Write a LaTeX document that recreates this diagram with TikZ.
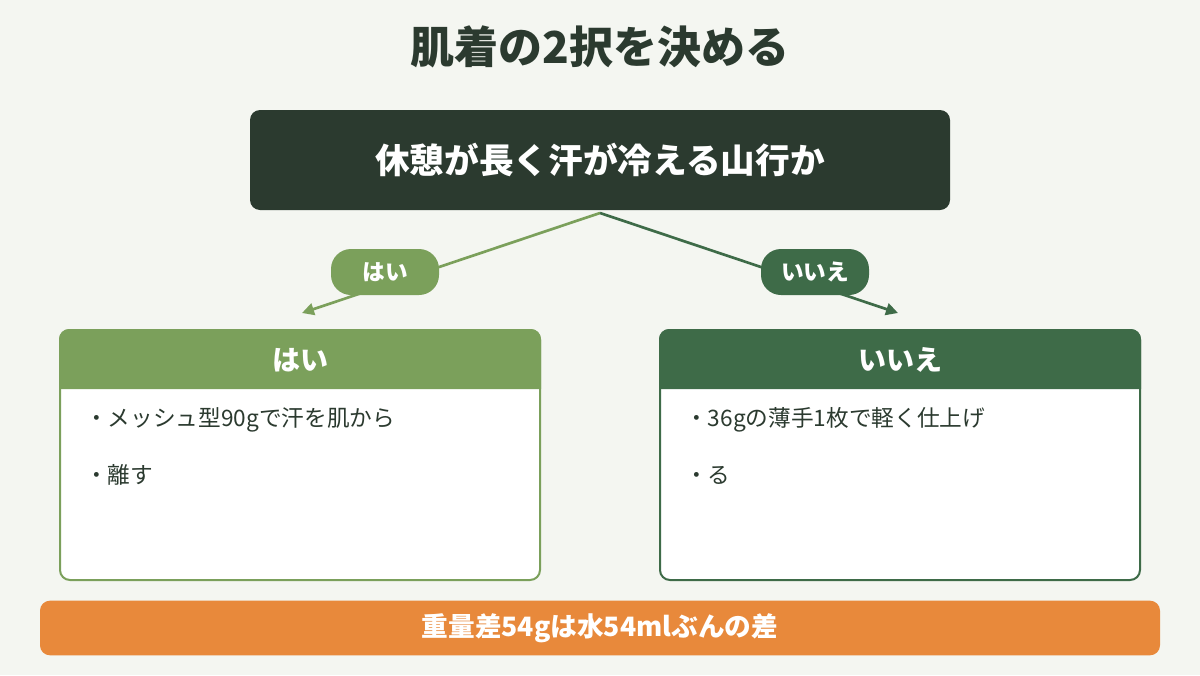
\documentclass[tikz,border=0pt]{standalone}
\usepackage{fontspec}
\setmainfont{Noto Sans CJK JP}
\usepackage{xcolor}
\definecolor{PageBg}{HTML}{F4F6F1}
\definecolor{DeepPine}{HTML}{2B3A2F}
\definecolor{HaiGreen}{HTML}{7BA05B}
\definecolor{IieGreen}{HTML}{3E6B48}
\definecolor{NoteOrange}{HTML}{E8893B}
\usetikzlibrary{arrows.meta,positioning,calc}
\tikzset{
  qbox/.style={fill=DeepPine, rounded corners=7.5pt, minimum width=525pt, minimum height=75pt,
               text=white, font=\fontsize{26}{30}\selectfont\bfseries, inner sep=0pt},
  pill/.style={rounded corners=15pt, minimum width=81pt, minimum height=34.5pt, inner sep=0pt,
               text=white, font=\fontsize{17}{20}\selectfont\bfseries},
  card/.style={draw=#1, fill=white, line width=1.5pt, rounded corners=7.5pt,
               minimum width=360pt, minimum height=187.5pt, inner sep=0pt},
  cardhead/.style={text=white, font=\fontsize{21}{24}\selectfont\bfseries},
  item/.style={anchor=west, text=DeepPine, font=\fontsize{17}{20}\selectfont, inner sep=0pt},
  branch/.style={-{Triangle[length=9pt,width=9pt]}, line width=2pt, #1}
}

\begin{document}
\begin{tikzpicture}[x=0.75pt, y=-0.75pt]
\fill[PageBg] (0,0) rectangle (1200,675);
\useasboundingbox (0,0) rectangle (1200,675);

% title
\node[text=DeepPine, font=\fontsize{33}{38}\selectfont\bfseries] (title) at (600,47) {肌着の2択を決める};

% question
\node[qbox] (q) at (600,160) {休憩が長く汗が冷える山行か};
\coordinate (qfoot) at (600,213);

% branches
\coordinate (haiend) at (302,313);
\coordinate (iieend) at (898,313);
\draw[branch=HaiGreen] (qfoot) -- (haiend);
\draw[branch=IieGreen] (qfoot) -- (iieend);
\node[pill, fill=HaiGreen] (haitag) at (385,272) {はい};
\node[pill, fill=IieGreen] (iietag) at (815,272) {いいえ};

% cards
\node[card=HaiGreen] (hai) at (300,455) {};
\fill[HaiGreen, rounded corners=7.5pt] ($(hai.north west)+(0,60)$) |- (hai.north east) [sharp corners] -- ($(hai.north east)+(0,60)$) -- cycle;
\node[cardhead] (haihead) at (300,360) {はい};
\node[item] (hai1) at (85,420) {・メッシュ型90gで汗を肌から};
\node[item] (hai2) at (85,475) {・離す};

\node[card=IieGreen] (iie) at (900,455) {};
\fill[IieGreen, rounded corners=7.5pt] ($(iie.north west)+(0,60)$) |- (iie.north east) [sharp corners] -- ($(iie.north east)+(0,60)$) -- cycle;
\node[cardhead] (iiehead) at (900,360) {いいえ};
\node[item] (iie1) at (685,420) {・36gの薄手1枚で軽く仕上げ};
\node[item] (iie2) at (685,475) {・る};

% note
\node[fill=NoteOrange, rounded corners=7.5pt, minimum width=840pt, minimum height=41pt, inner sep=0pt,
      text=white, font=\fontsize{20}{23}\selectfont\bfseries] (note) at (600,628) {重量差54gは水54mlぶんの差};
\end{tikzpicture}
\end{document}
